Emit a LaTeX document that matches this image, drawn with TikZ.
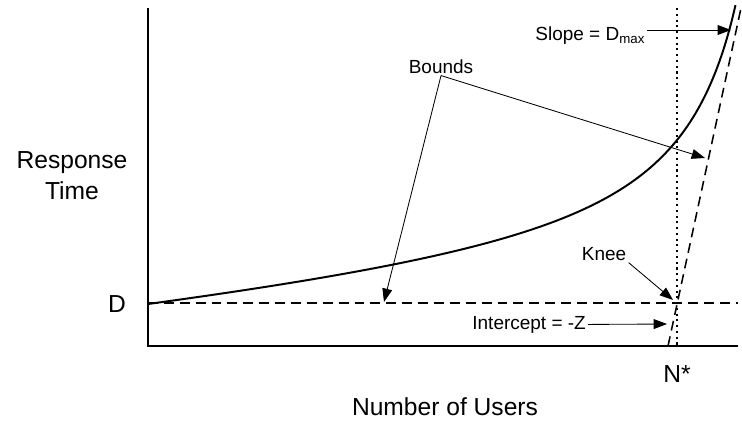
\documentclass[tikz,border=0pt]{standalone}
\usepackage{fontspec}
\setmainfont{Liberation Sans}
\usetikzlibrary{arrows.meta,positioning}

\begin{document}
\begin{tikzpicture}[x=0.025cm, y=-0.025cm,
  axis/.style={line width=1pt},
  bound/.style={line width=1.1pt, dash pattern=on 7pt off 4.3pt},
  marker/.style={line width=0.9pt, dash pattern=on 1.5pt off 2.6pt},
  pointer/.style={line width=0.6pt, -{Triangle[length=9.5pt,width=7pt]}},
  lbl/.style={font=\fontsize{13.5}{16}\selectfont, inner sep=1.5pt},
  big/.style={font=\fontsize{17.5}{22}\selectfont, inner sep=0pt}]
  \useasboundingbox (0,0) rectangle (742,421);

  % Axes
  \coordinate (O) at (148,346);
  \coordinate (ytop) at (148,8);
  \coordinate (xend) at (738,346);
  \draw[axis] (ytop) -- (O) -- (xend);

  % Bounds, N* and response curve
  \coordinate (d0) at (148,303);
  \coordinate (d1) at (738,303);
  \coordinate (s0) at (668,346);
  \coordinate (s1) at (741,8);
  \coordinate (nbot) at (677,346);
  \coordinate (ntop) at (677,8);
  \draw[bound] (d0) -- (d1);
  \draw[bound] (s0) -- (s1);
  \draw[marker] (ntop) -- (nbot);
  \draw[line width=1.4pt] plot[domain=0:587.5, samples=150, smooth]
    ({148+\x}, {304-(25.7*\x/(650-\x)+0.0975*\x)});

  % Axis labels
  \node[big, align=center] (resp) at (72,176) {Response\\Time};
  \node[big, anchor=base] (dlbl) at (117,312) {D};
  \node[big, anchor=base] (nlbl) at (677,382) {N*};
  \node[big, anchor=base] (xlbl) at (445,415) {Number of Users};

  % Annotations
  \node[lbl, anchor=base west] (slope) at (533,40) {Slope = D\textsubscript{max}};
  \coordinate (slopetip) at (731,30);
  \draw[pointer] (slope.east |- slopetip) -- (slopetip);

  \node[lbl, anchor=base] (bounds) at (441,73) {Bounds};
  \coordinate (btip1) at (384,302);
  \coordinate (btip2) at (705,158);
  \draw[pointer] (bounds.south) -- (btip1);
  \draw[pointer] (bounds.south) -- (btip2);

  \node[lbl, anchor=base] (knee) at (604,260) {Knee};
  \coordinate (ktip) at (673,300);
  \draw[pointer] (knee.south east) -- (ktip);

  \node[lbl, anchor=base west] (icpt) at (470,329) {Intercept = -Z};
  \coordinate (itip) at (667,324);
  \draw[pointer] (icpt.east) -- (itip);
\end{tikzpicture}
\end{document}
